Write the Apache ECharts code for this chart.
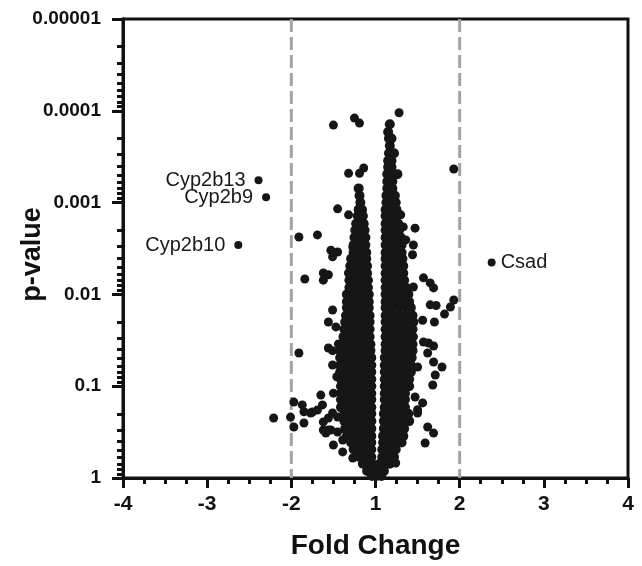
<!DOCTYPE html>
<html><head><meta charset="utf-8">
<script src="https://cdn.jsdelivr.net/npm/echarts@6/dist/echarts.min.js"></script>
<style>html,body{margin:0;padding:0;background:#fff}#c{width:642px;height:566px}</style>
</head><body><div id="c"></div>
<script>
// ---- axis definitions ----
const xFoldMin = -4, xFoldMax = 4;
const yTickValues = [0.00001, 0.0001, 0.001, 0.01, 0.1, 1];
const yTickLabels = ['0.00001', '0.0001', '0.001', '0.01', '0.1', '1'];
const thresholds = [-2, 2];

// ---- labelled genes ----
const geneNames = ['Cyp2b13', 'Cyp2b9', 'Cyp2b10', 'Csad'];
const geneFold  = [-2.39, -2.30, -2.63, 2.38];
const geneP     = [5.7e-4, 8.75e-4, 2.9e-3, 4.5e-3];

// ---- dense core, rows: [p, fold, fold, ...] ----
const rightLobe = [
[0.95, 1.01, 1.07],
[0.84, 1.03, 1.1],
[0.7, 1.05, 1.12, 1.17],
[0.59, 1.08, 1.15, 1.22],
[0.49, 1.08, 1.16, 1.24],
[0.41, 1.09, 1.17, 1.25, 1.31],
[0.35, 1.09, 1.17, 1.25, 1.33],
[0.29, 1.1, 1.18, 1.26, 1.34],
[0.24, 1.1, 1.18, 1.26, 1.34, 1.4],
[0.2, 1.1, 1.18, 1.26, 1.34, 1.39],
[0.17, 1.11, 1.19, 1.27, 1.35],
[0.14, 1.11, 1.19, 1.27, 1.35],
[0.12, 1.11, 1.19, 1.27, 1.35],
[0.1, 1.11, 1.19, 1.27, 1.35, 1.4],
[0.084, 1.11, 1.19, 1.27, 1.35, 1.4],
[0.07, 1.11, 1.19, 1.27, 1.35, 1.42],
[0.059, 1.11, 1.19, 1.27, 1.35, 1.42],
[0.049, 1.11, 1.19, 1.27, 1.35, 1.43],
[0.041, 1.12, 1.2, 1.28, 1.36, 1.44],
[0.035, 1.12, 1.2, 1.28, 1.36, 1.44],
[0.029, 1.12, 1.2, 1.28, 1.36, 1.44],
[0.024, 1.12, 1.2, 1.28, 1.36, 1.44],
[0.02, 1.12, 1.2, 1.28, 1.36, 1.45],
[0.017, 1.12, 1.2, 1.28, 1.36, 1.44],
[0.014, 1.12, 1.2, 1.28, 1.36, 1.42],
[0.012, 1.12, 1.2, 1.28, 1.36, 1.4],
[0.01, 1.12, 1.2, 1.28, 1.36, 1.39],
[0.0084, 1.12, 1.2, 1.28, 1.36],
[0.007, 1.12, 1.2, 1.28, 1.34],
[0.0059, 1.12, 1.2, 1.28, 1.33],
[0.0049, 1.12, 1.2, 1.28, 1.33],
[0.0041, 1.12, 1.2, 1.28, 1.32],
[0.0035, 1.12, 1.2, 1.28, 1.31],
[0.0029, 1.12, 1.2, 1.28, 1.31],
[0.0024, 1.12, 1.2, 1.28, 1.3],
[0.002, 1.12, 1.2, 1.28],
[0.0017, 1.12, 1.2, 1.27],
[0.0014, 1.12, 1.2, 1.26],
[0.0012, 1.12, 1.2, 1.25],
[0.001, 1.13, 1.2, 1.24],
[0.00084, 1.13, 1.19, 1.23],
[0.0007, 1.14, 1.2],
[0.00059, 1.14, 1.2],
[0.00049, 1.14, 1.2, 1.26],
[0.00041, 1.15, 1.19],
[0.00035, 1.15, 1.19],
[0.00029, 1.16, 1.22],
[0.00024, 1.17],
[0.0002, 1.16, 1.19],
[0.00017, 1.15],
[0.00014, 1.17]
];

const leftLobe = [
[0.95, -1.04],
[0.84, -1.04, -1.1],
[0.7, -1.04, -1.1, -1.15],
[0.59, -1.05, -1.12, -1.19],
[0.49, -1.05, -1.13, -1.21, -1.26],
[0.41, -1.05, -1.13, -1.21, -1.29],
[0.35, -1.05, -1.13, -1.21, -1.29, -1.34],
[0.29, -1.05, -1.13, -1.21, -1.29, -1.36],
[0.24, -1.05, -1.13, -1.21, -1.29, -1.37],
[0.2, -1.05, -1.13, -1.21, -1.29, -1.37],
[0.17, -1.05, -1.13, -1.21, -1.29, -1.37, -1.41],
[0.14, -1.05, -1.13, -1.21, -1.29, -1.37, -1.41],
[0.12, -1.05, -1.13, -1.21, -1.29, -1.37, -1.41],
[0.1, -1.05, -1.13, -1.21, -1.29, -1.37, -1.41],
[0.084, -1.05, -1.13, -1.21, -1.29, -1.37, -1.41],
[0.07, -1.05, -1.13, -1.21, -1.29, -1.37, -1.42],
[0.059, -1.05, -1.13, -1.21, -1.29, -1.37, -1.42],
[0.049, -1.05, -1.13, -1.21, -1.29, -1.37, -1.42],
[0.041, -1.06, -1.14, -1.22, -1.3, -1.38, -1.42],
[0.035, -1.06, -1.14, -1.22, -1.3, -1.38],
[0.029, -1.07, -1.15, -1.23, -1.31, -1.38],
[0.024, -1.07, -1.15, -1.23, -1.31, -1.37],
[0.02, -1.07, -1.15, -1.23, -1.31, -1.36],
[0.017, -1.07, -1.15, -1.23, -1.31, -1.35],
[0.014, -1.08, -1.16, -1.24, -1.32, -1.34],
[0.012, -1.08, -1.16, -1.24, -1.32, -1.34],
[0.01, -1.08, -1.16, -1.24, -1.32, -1.34],
[0.0084, -1.09, -1.17, -1.25, -1.31],
[0.007, -1.09, -1.17, -1.25, -1.31],
[0.0059, -1.1, -1.18, -1.26, -1.31],
[0.0049, -1.1, -1.18, -1.26, -1.3],
[0.0041, -1.11, -1.19, -1.27, -1.29],
[0.0035, -1.11, -1.19, -1.26],
[0.0029, -1.12, -1.2, -1.26],
[0.0024, -1.12, -1.2, -1.25],
[0.002, -1.13, -1.2, -1.24],
[0.0017, -1.14, -1.21, -1.23],
[0.0014, -1.15, -1.21],
[0.0012, -1.16, -1.2],
[0.001, -1.18],
[0.00084, -1.19],
[0.0007, -1.2]
];

// ---- scattered genes: [fold, p] ----
const outliers = [
[1.28, 1.05e-4], [-1.5, 1.43e-4], [-1.25, 1.2e-4], [-1.19, 1.36e-4],
[1.3, 1.36e-3], [1.33, 1.84e-3], [1.47, 1.9e-3], [1.45, 2.9e-3], [1.44, 3.7e-3], [1.36, 2.55e-3],
[-1.14, 4.2e-4], [-1.19, 4.8e-4], [-1.32, 4.8e-4], [-1.45, 1.17e-3], [-1.32, 1.36e-3],
[-1.2, 1.17e-3], [-1.18, 1.55e-3], [-1.14, 1.75e-3], [1.93, 4.3e-4],
[-1.91, 2.37e-3], [-1.69, 2.25e-3], [-1.53, 3.3e-3], [-1.45, 3.45e-3], [-1.51, 3.9e-3], [-1.27, 3.05e-3],
[-1.62, 5.85e-3], [-1.56, 6.1e-3], [-1.62, 7e-3], [-1.84, 6.8e-3], [-1.32, 5.85e-3],
[-1.51, 0.0148], [-1.56, 0.02], [-1.47, 0.0226], [-1.91, 0.0435], [-1.44, 0.0347], [-1.56, 0.0384], [-1.51, 0.041],
[1.57, 6.6e-3], [1.65, 7.5e-3], [1.69, 8.5e-3], [1.45, 8.3e-3],
[1.93, 0.0115], [1.89, 0.0137], [1.82, 0.0164], [1.65, 0.013], [1.72, 0.0132], [1.7, 0.02], [1.56, 0.0191],
[1.63, 0.0338], [1.69, 0.0365], [1.57, 0.033], [1.45, 0.029], [1.62, 0.0435], [1.69, 0.0545], [1.79, 0.0618],
[1.71, 0.0755], [1.68, 0.097], [1.5, 0.0618], [1.47, 0.131], [1.56, 0.152], [1.5, 0.196], [1.5, 0.18],
[1.62, 0.278], [1.69, 0.324], [1.59, 0.416], [1.24, 0.687],
[-2.21, 0.222], [-2.01, 0.217], [-1.97, 0.278], [-1.85, 0.252], [-1.97, 0.149], [-1.87, 0.16],
[-1.65, 0.125], [-1.51, 0.0588], [-1.5, 0.119], [-1.5, 0.437], [-1.39, 0.386], [-1.27, 0.605],
[-1.77, 0.196], [-1.62, 0.245], [-1.56, 0.3], [-1.39, 0.52], [-1.75, 0.191], [-1.69, 0.182],
[-1.63, 0.16], [-1.51, 0.196], [-1.56, 0.222], [-1.62, 0.3], [-1.53, 0.3], [-1.46, 0.079],
[-1.85, 0.19], [-1.45, 0.217], [-1.59, 0.324], [-1.45, 0.315], [-1.33, 0.357]
];

// fold change axis: -1 and +1 coincide (no fold change), so shift each side by one
function toAxis(f) { return f >= 0 ? f - 1 : f + 1; }
function fromAxis(u) { return u >= 0 ? u + 1 : u - 1; }

function rowsToPoints(rows) {
  const out = [];
  rows.forEach(r => { for (let i = 1; i < r.length; i++) out.push([toAxis(r[i]), r[0]]); });
  return out;
}
const corePoints = rowsToPoints(rightLobe).concat(rowsToPoints(leftLobe));
const outlierPoints = outliers.map(d => [toAxis(d[0]), d[1]]);
const genePoints = geneNames.map((n, i) => ({
  value: [toAxis(geneFold[i]), geneP[i]],
  label: { position: geneFold[i] < 0 ? 'left' : 'right', distance: geneFold[i] < 0 ? 9 : 5 }
}));

const yMin = yTickValues[0], yMax = yTickValues[yTickValues.length - 1];
const minorYTicks = [];
for (let e = -5; e < 0; e++) for (let m = 2; m <= 9; m++) minorYTicks.push(+(m * Math.pow(10, e)).toPrecision(3));

function yLabel(v) {
  for (let i = 0; i < yTickValues.length; i++) {
    if (Math.abs(Math.log10(yTickValues[i]) - Math.log10(v)) < 0.01) return yTickLabels[i];
  }
  return '';
}

const INK = '#111';
const DOT = '#161616';
const FONT = '"Liberation Sans", Arial, Helvetica, sans-serif';

const chart = echarts.init(document.getElementById('c'), null, { renderer: 'canvas' });
chart.setOption({
  animation: false,
  backgroundColor: '#fff',
  grid: { left: 123, right: 14, top: 19, bottom: 88, show: true, borderColor: INK, borderWidth: 3,
          backgroundColor: 'transparent', containLabel: false, outerBoundsMode: 'none' },
  xAxis: {
    type: 'value', min: toAxis(xFoldMin), max: toAxis(xFoldMax), interval: 1,
    axisLine: { onZero: false, lineStyle: { color: INK, width: 3 } },
    axisTick: { show: true, length: 10, lineStyle: { color: INK, width: 3 } },
    minorTick: { show: true, splitNumber: 4, length: 6, lineStyle: { color: INK, width: 3 } },
    axisLabel: { margin: 16, fontSize: 21, fontWeight: 'bold', color: INK, fontFamily: FONT,
      formatter: v => String(fromAxis(v)) },
    splitLine: { show: false }, minorSplitLine: { show: false },
    name: 'Fold Change', nameLocation: 'middle', nameGap: 54, nameMoveOverlap: false,
    nameTextStyle: { fontSize: 28, fontWeight: 'bold', color: INK, fontFamily: FONT }
  },
  yAxis: [{
    type: 'log', logBase: 10, min: yMin, max: yMax, inverse: true, position: 'left',
    axisLine: { show: true, onZero: false, lineStyle: { color: INK, width: 3 } },
    axisTick: { show: true, length: 11, lineStyle: { color: INK, width: 3 } },
    axisLabel: { margin: 22, fontSize: 19, fontWeight: 'bold', color: INK, fontFamily: FONT, formatter: yLabel },
    splitLine: { show: false },
    name: 'p-value', nameLocation: 'middle', nameGap: 77, nameMoveOverlap: false,
    nameTextStyle: { fontSize: 27, fontWeight: 'bold', color: INK, fontFamily: FONT, padding: [0, 12, 0, 0] }
  }, {
    type: 'log', logBase: 10, min: yMin, max: yMax, inverse: true, position: 'left',
    axisLine: { show: false, onZero: false },
    axisTick: { show: true, length: 6, customValues: minorYTicks, lineStyle: { color: INK, width: 3 } },
    axisLabel: { show: false },
    splitLine: { show: false }
  }],
  series: thresholds.map(t => ({
    type: 'line', silent: true, z: 1, symbol: 'none',
    data: [[toAxis(t), yMin], [toAxis(t), yMax]],
    lineStyle: { color: '#a3a3a3', width: 3, type: [13, 5] }
  })).concat([
    { type: 'scatter', z: 3, silent: true, symbol: 'circle', symbolSize: 10, data: corePoints,
      itemStyle: { color: DOT, opacity: 1 } },
    { type: 'scatter', z: 3, silent: true, symbol: 'circle', symbolSize: 9, data: outlierPoints,
      itemStyle: { color: DOT, opacity: 1 } },
    { type: 'scatter', z: 4, silent: true, symbol: 'circle', symbolSize: 8, data: genePoints,
      itemStyle: { color: DOT, opacity: 1 },
      label: { show: true, formatter: p => geneNames[p.dataIndex], fontSize: 20, color: '#1a1a1a', fontFamily: FONT, opacity: 1 } }
  ])
});
</script>
</body></html>
